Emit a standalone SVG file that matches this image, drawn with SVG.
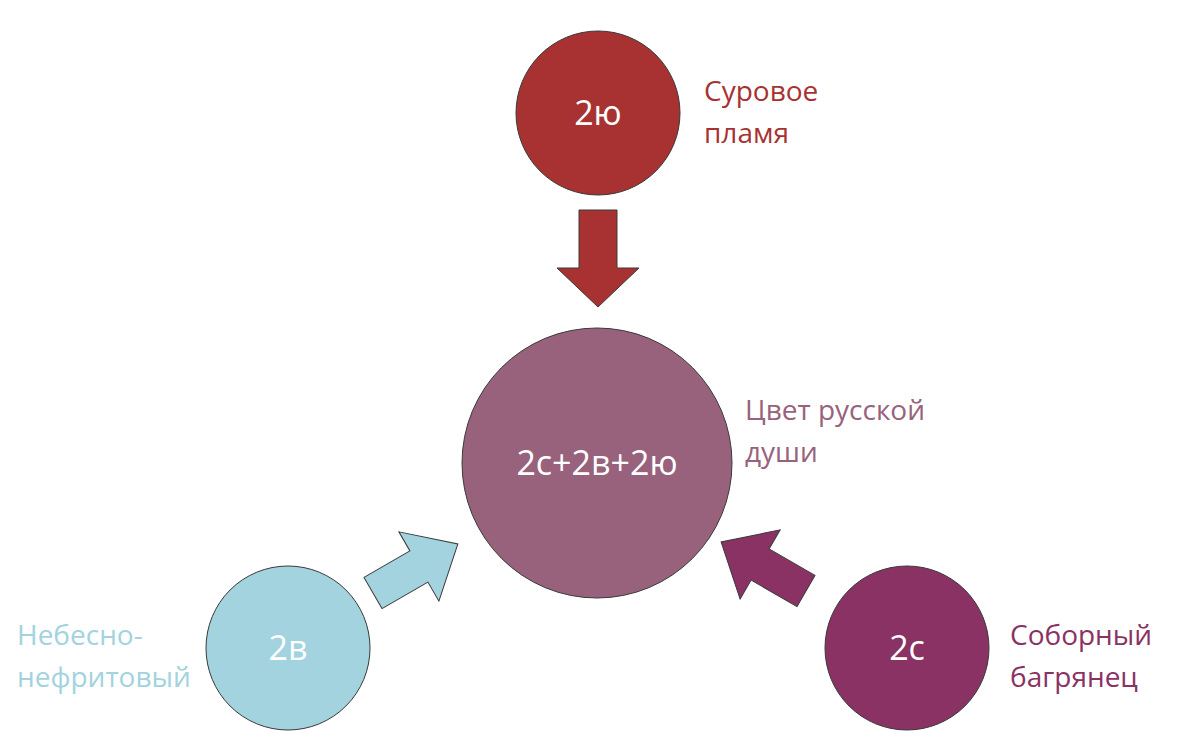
<svg xmlns="http://www.w3.org/2000/svg" width="1200" height="747" viewBox="0 0 1200 747">
<style>
text{font-family:"Open Sans","Liberation Sans",sans-serif}
.c{fill:#fff;font-size:34px;text-anchor:middle}
.l{font-size:28px}
.arr{stroke:#3a3a3a;stroke-width:1}
</style>
<rect width="1200" height="747" fill="#fff"/>
<g id="connectors">
<polygon class="arr" fill="#A83232" points="579,210 617,210 617,268 639,268 598,307 557,268 579,268"/>
<polygon class="arr" fill="#A2D3DE" transform="translate(373,593) rotate(-30)" points="0,-18 53,-18 53,-40 98,0 53,40 53,18 0,18"/>
<polygon class="arr" fill="#8B3264" transform="translate(806,591) rotate(210)" points="0,-18 53,-18 53,-40 98,0 53,40 53,18 0,18"/>
</g>
<g id="n-top"><circle cx="598" cy="113" r="82" fill="#A83232" stroke="#3a3a3a" stroke-width="1"/><text class="c" x="598" y="125">2ю</text>
<text class="l" fill="#A83232" x="704" y="101">Суровое</text><text class="l" fill="#A83232" x="704" y="143">пламя</text></g>
<g id="n-center"><circle cx="597" cy="463" r="135" fill="#98627C" stroke="#3a3a3a" stroke-width="1"/><text class="c" x="597" y="475">2с+2в+2ю</text>
<text class="l" fill="#98627C" x="745" y="420">Цвет русской</text><text class="l" fill="#98627C" x="745" y="462">души</text></g>
<g id="n-left"><circle cx="288" cy="648" r="82" fill="#A2D3DE" stroke="#3a3a3a" stroke-width="1"/><text class="c" x="288" y="660">2в</text>
<text class="l" fill="#A2D3DE" x="17" y="645">Небесно-</text><text class="l" fill="#A2D3DE" x="17" y="687">нефритовый</text></g>
<g id="n-right"><circle cx="907" cy="648" r="82" fill="#8B3264" stroke="#3a3a3a" stroke-width="1"/><text class="c" x="907" y="660">2с</text>
<text class="l" fill="#8B3264" x="1010" y="645">Соборный</text><text class="l" fill="#8B3264" x="1010" y="687">багрянец</text></g>
</svg>
